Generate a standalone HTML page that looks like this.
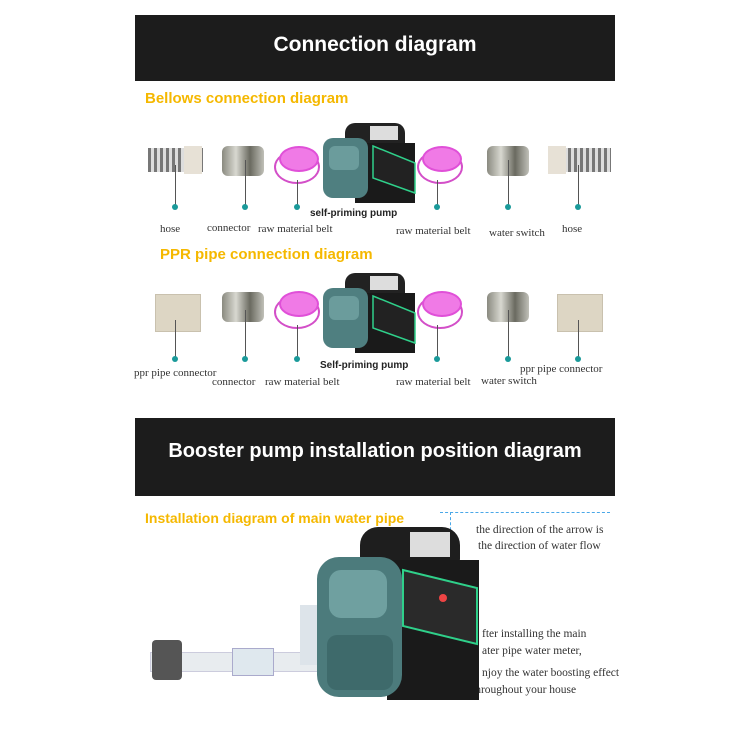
<!DOCTYPE html>
<html><head><style>
body{margin:0;width:750px;height:750px;background:#fff;position:relative;overflow:hidden;font-family:"Liberation Sans",sans-serif}
.a{position:absolute}
.ban{position:absolute;left:135px;width:480px;background:#1c1c1c;color:#fff;font-weight:bold;text-align:center}
.or{position:absolute;color:#f5b800;font-weight:bold;font-size:15px}
.lb{position:absolute;font-family:"Liberation Serif",serif;font-size:11px;color:#333;white-space:nowrap}
.ln{position:absolute;width:1px;background:#555}
.dot{position:absolute;width:6px;height:6px;border-radius:50%;background:#1a9a9a}
.tape{position:absolute;width:46px;height:34px;border-radius:50%;background:#fff;border:2px solid #d34fc8;box-sizing:border-box}
.tape:before{content:"";position:absolute;left:3px;top:-6px;width:36px;height:22px;border-radius:50%;background:#f07ae6;border:2px solid #e050d8}
.con{position:absolute;width:42px;height:30px;border-radius:6px;background:linear-gradient(90deg,#8a8a80,#d8d8d0,#6a6a60,#c0c0b8)}
.hose{position:absolute;width:55px;height:24px;background:repeating-linear-gradient(90deg,#777 0 3px,#ddd 3px 6px)}
.ppr{position:absolute;width:44px;height:36px;background:#ddd6c4;border:1px solid #c9c1ae}
.txt{position:absolute;font-family:"Liberation Serif",serif;font-size:11.5px;color:#333;white-space:nowrap}
</style></head><body>
<div class="ban" style="top:15px;height:66px;line-height:60px;font-size:21px">Connection diagram</div>
<div class="or" style="left:145px;top:90px">Bellows connection diagram</div>

<div class="hose" style="left:148px;top:148px"></div><div class="a" style="left:184px;top:146px;width:18px;height:28px;background:#e7e1d6"></div>
<div class="con" style="left:222px;top:146px"></div>
<div class="tape" style="left:274px;top:150px"></div>
<div class="tape" style="left:417px;top:150px"></div>
<div class="con" style="left:487px;top:146px"></div>
<div class="hose" style="left:556px;top:148px"></div><div class="a" style="left:548px;top:146px;width:18px;height:28px;background:#e7e1d6"></div>
<div class="ln" style="left:175px;top:165px;height:40px"></div><div class="dot" style="left:172px;top:204px"></div>
<div class="ln" style="left:245px;top:160px;height:45px"></div><div class="dot" style="left:242px;top:204px"></div>
<div class="ln" style="left:297px;top:180px;height:25px"></div><div class="dot" style="left:294px;top:204px"></div>
<div class="ln" style="left:437px;top:180px;height:25px"></div><div class="dot" style="left:434px;top:204px"></div>
<div class="ln" style="left:508px;top:160px;height:45px"></div><div class="dot" style="left:505px;top:204px"></div>
<div class="ln" style="left:578px;top:165px;height:40px"></div><div class="dot" style="left:575px;top:204px"></div>
<svg class="a" style="left:315px;top:118px" width="105" height="90">
<rect x="30" y="5" width="60" height="30" rx="10" fill="#222"/>
<rect x="55" y="8" width="28" height="14" fill="#ddd"/>
<rect x="40" y="25" width="60" height="60" fill="#1a1a1a"/>
<polygon points="58,28 100,45 100,75 58,60" fill="#222" stroke="#2fd08a" stroke-width="1.5"/>
<rect x="8" y="20" width="45" height="60" rx="10" fill="#4f7f80"/>
<rect x="14" y="28" width="30" height="24" rx="6" fill="#6b9c9c"/>
</svg>
<div class="a" style="left:310px;top:208px;font-size:10px;font-weight:bold;color:#222">self-priming pump</div>
<div class="lb" style="left:160px;top:223px">hose</div>
<div class="lb" style="left:207px;top:222px">connector</div>
<div class="lb" style="left:258px;top:223px">raw material belt</div>
<div class="lb" style="left:396px;top:225px">raw material belt</div>
<div class="lb" style="left:489px;top:227px">water switch</div>
<div class="lb" style="left:562px;top:223px">hose</div>

<div class="or" style="left:160px;top:246px">PPR pipe connection diagram</div>

<div class="ppr" style="left:155px;top:294px"></div>
<div class="con" style="left:222px;top:292px"></div>
<div class="tape" style="left:274px;top:295px"></div>
<div class="tape" style="left:417px;top:295px"></div>
<div class="con" style="left:487px;top:292px"></div>
<div class="ppr" style="left:557px;top:294px"></div>
<div class="ln" style="left:175px;top:320px;height:37px"></div><div class="dot" style="left:172px;top:356px"></div>
<div class="ln" style="left:245px;top:310px;height:47px"></div><div class="dot" style="left:242px;top:356px"></div>
<div class="ln" style="left:297px;top:325px;height:32px"></div><div class="dot" style="left:294px;top:356px"></div>
<div class="ln" style="left:437px;top:325px;height:32px"></div><div class="dot" style="left:434px;top:356px"></div>
<div class="ln" style="left:508px;top:310px;height:47px"></div><div class="dot" style="left:505px;top:356px"></div>
<div class="ln" style="left:578px;top:320px;height:37px"></div><div class="dot" style="left:575px;top:356px"></div>
<svg class="a" style="left:315px;top:268px" width="105" height="90">
<rect x="30" y="5" width="60" height="30" rx="10" fill="#222"/>
<rect x="55" y="8" width="28" height="14" fill="#ddd"/>
<rect x="40" y="25" width="60" height="60" fill="#1a1a1a"/>
<polygon points="58,28 100,45 100,75 58,60" fill="#222" stroke="#2fd08a" stroke-width="1.5"/>
<rect x="8" y="20" width="45" height="60" rx="10" fill="#4f7f80"/>
<rect x="14" y="28" width="30" height="24" rx="6" fill="#6b9c9c"/>
</svg>
<div class="a" style="left:320px;top:360px;font-size:10px;font-weight:bold;color:#222">Self-priming pump</div>
<div class="lb" style="left:134px;top:367px">ppr pipe connector</div>
<div class="lb" style="left:212px;top:376px">connector</div>
<div class="lb" style="left:265px;top:376px">raw material belt</div>
<div class="lb" style="left:396px;top:376px">raw material belt</div>
<div class="lb" style="left:481px;top:375px">water switch</div>
<div class="lb" style="left:520px;top:363px">ppr pipe connector</div>

<div class="ban" style="top:418px;height:78px;line-height:66px;font-size:20px">Booster pump installation position diagram</div>
<div class="or" style="left:145px;top:510px;font-size:14px">Installation diagram of main water pipe</div>
<div class="a" style="left:440px;top:512px;width:170px;border-top:1px dashed #4aa8e8"></div>
<div class="a" style="left:450px;top:512px;height:110px;border-left:1px dashed #4aa8e8"></div>
<div class="txt" style="left:476px;top:524px">the direction of the arrow is</div>
<div class="txt" style="left:478px;top:540px">the direction of water flow</div>
<div class="txt" style="left:482px;top:628px">fter installing the main</div>
<div class="txt" style="left:482px;top:645px">ater pipe water meter,</div>
<div class="txt" style="left:482px;top:667px">njoy the water boosting effect</div>
<div class="txt" style="left:472px;top:684px">throughout your house</div>
<div class="a" style="left:150px;top:652px;width:170px;height:18px;background:#e8ecef;border:1px solid #ccd"></div>
<div class="a" style="left:152px;top:640px;width:30px;height:40px;background:#555;border-radius:4px"></div>
<div class="a" style="left:232px;top:648px;width:40px;height:26px;background:#dfe8ee;border:1px solid #aac"></div>
<div class="a" style="left:300px;top:605px;width:22px;height:60px;background:#dde4ea"></div>
<svg class="a" style="left:305px;top:522px" width="180" height="180">
<rect x="55" y="5" width="100" height="50" rx="18" fill="#1e1e1e"/>
<rect x="105" y="10" width="40" height="25" fill="#ddd"/>
<rect x="82" y="38" width="92" height="140" fill="#1a1a1a"/>
<polygon points="98,48 172,66 172,122 98,104" fill="#2a2a2a" stroke="#2fd08a" stroke-width="2"/>
<circle cx="138" cy="76" r="4" fill="#e44"/>
<rect x="12" y="35" width="85" height="140" rx="22" fill="#4c7b7c"/>
<rect x="24" y="48" width="58" height="48" rx="12" fill="#6fa0a0"/>
<rect x="22" y="113" width="66" height="55" rx="10" fill="#3e6a6b"/>
</svg>
</body></html>
